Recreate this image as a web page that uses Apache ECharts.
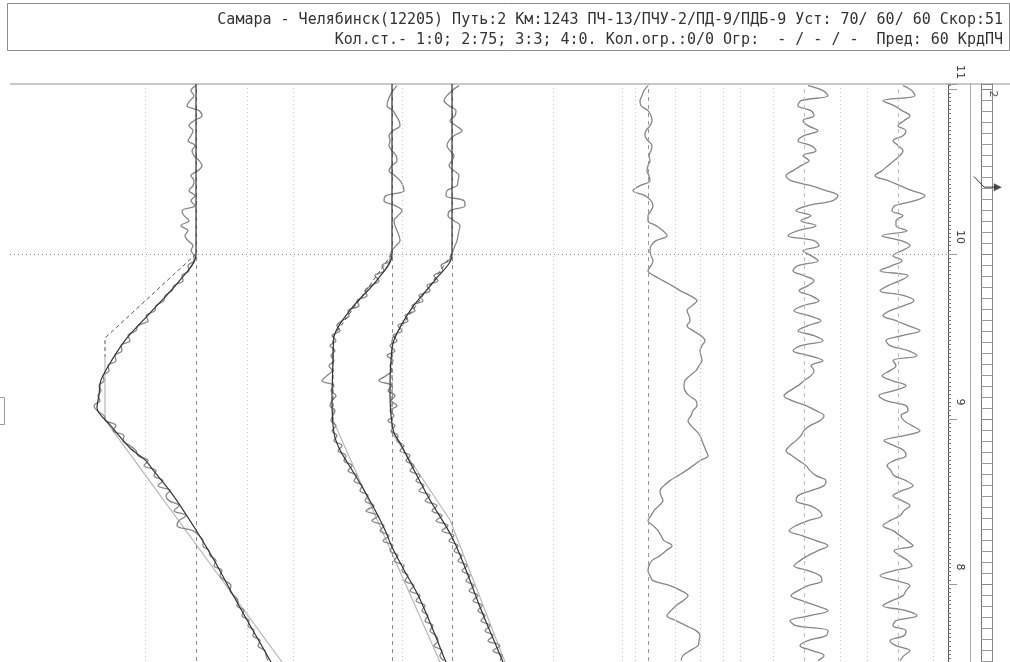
<!DOCTYPE html>
<html><head><meta charset="utf-8">
<script src="https://cdn.jsdelivr.net/npm/echarts@6/dist/echarts.min.js"></script>
<style>html,body{margin:0;padding:0;background:#fff}#c{width:1010px;height:662px}</style>
</head><body><div id="c"></div>
<script>
// ---- header texts ----
const headerLine1 = "Самара - Челябинск(12205) Путь:2 Км:1243 ПЧ-13/ПЧУ-2/ПД-9/ПДБ-9 Уст: 70/ 60/ 60 Скор:51";
const headerLine2 = "Кол.ст.- 1:0; 2:75; 3:3; 4:0. Кол.огр.:0/0 Огр:  - / - / -  Пред: 60 КрдПЧ";

// ---- picket axis (hundreds of metres) ----
const kmMin = 7, kmMax = 11.03, kmInterval = 1;
const markerKm = [10.97, 10.405];

// ---- sampled measured traces (start picket, spacing) ----
const kmStart = 11.02, kmStep = 0.0303;
const ch1 = [0,-5,-2,-6,-9,3,6,-2,-7,-3, -5,-8,-1,-4,-2,3,6,2,-5,-2, -3,-7,-1,-5,-1,-14,-12,-7,-15,-8, -11,-8,-3,-5,-2,
  -2,-8,-7,-14,-13, -22,-24,-31,-32,-40,-41,-50,-48,-58,-60, -68,-66,-75,-74,-81,-80,-88,-87,-93,-92,
  -97,-95,-98,-96,-102,-99,-92,-90,-80,-83, -72,-73,-66,-60,-58,-48,-52,-40,-42,-33, -38,-26,-30,-27,-17,-22,-10,-17,-19,-3,
  3,7,7,13,14,20,18,26,24,29, 35,34,38,42,41,48,46,53,52,58, 57,64,62,69,70,72];
const ch2 = [5,1,-2,-4,-5,1,4,7,8,1, -3,-2,-3,0,4,5,0,-3,3,8, 11,12,-6,-8,3,10,6,2,3,5, 7,8,4,0,-2,
  -2,-10,-8,-17,-13, -21,-27,-25,-35,-33,-44,-43,-50,-55,-52, -60,-56,-62,-57,-61,-58,-63,-60,-65,-70,
  -58,-61,-56,-60,-62,-57,-59,-61,-56,-60, -55,-58,-50,-54,-46,-48,-40,-44,-35,-38, -30,-32,-24,-27,-18,-26,-14,-20,-8,-12,
  -3,-9,1,-2,6,2,12,10,16,13, 22,18,28,24,33,30,36,33,41,38, 44,46,42,50,48,52];
const ch3 = [7,0,-5,-8,-3,4,3,-2,4,10, 2,-3,-5,-2,2,0,-3,2,7,6, 5,-5,-6,12,13,-2,-4,2,8,7, 6,5,3,1,-1,
  -3,-11,-9,-18,-14, -25,-22,-33,-29,-40,-37,-47,-44,-54,-50, -59,-55,-62,-57,-65,-59,-62,-60,-66,-73,
  -60,-64,-57,-61,-55,-62,-58,-64,-57,-61, -54,-55,-48,-52,-42,-46,-38,-42,-32,-36, -28,-33,-22,-27,-15,-20,-10,-16,-4,-10,
  2,-3,6,2,10,6,15,10,18,14, 22,17,26,21,30,26,33,29,38,33, 41,36,48,41,50,48];
const ch4 = [0,-4,-6,-8,-7,0,3,4,2,-2, -3,0,4,3,1,2,0,-1,1,2, -8,-15,-3,3,5,3,0,0,8,15, 19,8,3,2,3,5,3,0,6,15,
  24,32,42,49,44,39,41,42,39,45, 53,57,54,52,53,54,51,48,42,37, 36,37,41,48,49,45,43,40,43,48,
  52,54,56,58,60,52,45,38,30,22, 16,12,13,15,11,6,3,0,5,10, 13,16,24,18,12,4,1,0,2,5,
  22,33,40,35,28,23,19,28,38,48, 52,51,50,42,35,33];
const ch5 = [4,19,24,-3,-6,7,10,-1,4,14, 0,-6,7,12,-1,5,-3,-11,-18,-13, 7,22,34,29,4,-8,7,-3,12,-6,
  -16,10,15,-1,7,14,-6,-11,0,10, 4,-5,7,15,-1,-10,5,17,4,-6, 10,19,-3,-11,5,19,7,10,7,0,
  -6,-14,-20,-12,2,12,20,16,6,0, -3,-8,-14,-18,-12,-5,2,6,12,22, 20,7,-6,-8,6,15,18,4,-8,-15,
  -2,12,24,14,4,-4,-10,4,16,18, 4,-6,-13,-2,12,24,6,-14,-8,24, 22,4,-4,8,20,14];
const ch6 = [5,14,17,-15,-4,4,12,6,0,8, 5,-5,0,5,2,-4,-10,-16,-23,-10, 2,14,27,17,-3,-6,5,-2,-2,9,
  -16,3,12,4,-5,4,-6,-18,10,2, -10,-18,6,16,6,-8,-15,-2,10,22, 4,-12,-8,10,19,-5,-2,-8,-16,-6,
  8,-4,-19,-12,8,10,3,6,14,22, 6,-14,-4,6,8,-4,-11,-7,-4,8, 15,4,-5,4,12,6,2,-8,-15,-5,
  2,9,15,-4,2,10,14,-4,-18,-2, 12,8,5,-6,-15,8,19,-2,-5,8, 6,-8,-2,12,6,2];

// ---- smoothed traces and design (pickets / value) ----
const ch1SmoothKm = [11.03,9.994,9.842,9.642,9.491,9.358,9.236,9.145,9.067,8.964,8.824,8.752,8.691,8.539,8.327,8.145,7.933,7.782,7.570,7.527];
const ch1SmoothVal = [0,0,-16,-46,-69,-84,-95,-97,-99,-86,-66,-51,-43,-23,0,18,37,51,71,75];
const ch1DesignKm = [10.0,9.491,9.376];  const ch1DesignVal = [0,-91,-91];
const ch1ExitKm = [9.376,8.994,7.527];   const ch1ExitVal = [-91,-91,86];

const ch2SmoothKm = [11.03,9.994,9.842,9.673,9.497,9.358,9.115,8.915,8.812,8.691,8.570,8.448,8.327,8.224,8.085,7.945,7.782,7.570,7.527];
const ch2SmoothVal = [0,0,-15,-40,-58,-59,-60,-58,-52,-40,-28,-17,-7,0,12,25,37,51,54];
const ch2DesignKm = [10.0,9.497,8.994];  const ch2DesignVal = [0,-59,-59];
const ch2ExitKm = [8.994,7.527];         const ch2ExitVal = [-59,48];

const ch3SmoothKm = [11.03,9.994,9.842,9.673,9.479,9.358,9.176,9.024,8.915,8.855,8.691,8.509,8.285,8.085,7.861,7.570,7.527];
const ch3SmoothVal = [0,0,-17,-40,-58,-61,-62,-61,-58,-52,-38,-22,0,14,28,48,51];
const ch3DesignKm = [10.0,9.479,8.915];  const ch3DesignVal = [0,-60,-60];
const ch3ExitKm = [8.915,8.388,7.527];   const ch3ExitVal = [-60,-2,53];

// ---- level (threshold) lines per channel ----
const ch1Levels = [-51,51,97];
const ch2Levels = [10];
const ch3Levels = [101];
const ch4Levels = [-26,-13,27,52,75,92];
const ch5Levels = [-31,36];
const ch6Levels = [-31,35];

// ---- layout ----
const GL = 10, GR = 948;
const bases = [196,392,452,648,804,898];

const sampled = vals => vals.map((v,i) => [v, +(kmStart - i*kmStep).toFixed(4)]);
const paired = (kms, vals) => kms.map((k,i) => [vals[i], k]);

const chart = echarts.init(document.getElementById('c'), null, {renderer:'canvas'});

function levelLines(levels, baseColor, withKm10){
  const d = levels.map(v => ({xAxis:v, lineStyle:{type:[1,3], color:'#c4c4c4', width:1}}));
  d.push({xAxis:0, lineStyle:{type:[4,4], color:baseColor, width:1}});
  if (withKm10) d.push({yAxis:10, lineStyle:{type:[1,3], color:'#8c8c8c', width:1}});
  return {silent:true, symbol:'none', label:{show:false}, animation:false, data:d};
}
function traceSeries(idx, vals, levels, baseColor, withKm10){
  return {type:'line', xAxisIndex:idx, yAxisIndex:0, data:sampled(vals), showSymbol:false, symbol:'none',
    smooth:0.35, lineStyle:{color:'#858585', width:1.3}, animation:false, z:3,
    markLine: levelLines(levels, baseColor, withKm10)};
}
function plainLine(idx, kms, vals, color, width, type, smooth, z){
  return {type:'line', xAxisIndex:idx, yAxisIndex:0, data:paired(kms, vals), showSymbol:false, symbol:'none',
    smooth:smooth, lineStyle:{color:color, width:width, type:type}, animation:false, z:z};
}

const xAxes = bases.map(b => ({type:'value', gridIndex:0, min:GL-b, max:GR-b, show:false}));
xAxes.push({type:'value', gridIndex:1, min:0, max:1, show:false});

const yBase = {type:'value', gridIndex:0, min:kmMin, max:kmMax, position:'right', splitLine:{show:false}};
const option = {
  backgroundColor:'#fff',
  animation:false,
  grid:[{left:GL, width:GR-GL, top:84, height:665, containLabel:false, outerBoundsMode:'none'},
        {left:972, width:38, top:84, height:665, containLabel:false, outerBoundsMode:'none'}],
  xAxis: xAxes,
  yAxis: [
    Object.assign({}, yBase, {interval:kmInterval, offset:0,
      axisLine:{show:true, onZero:false, lineStyle:{color:'#555', width:1}},
      axisTick:{show:true, length:9, lineStyle:{color:'#999'}},
      minorTick:{show:true, splitNumber:40, length:3, lineStyle:{color:'#777'}},
      axisLabel:{show:true, rotate:-90, margin:6, fontSize:11, color:'#333', fontFamily:'DejaVu Sans',
        padding:[0,34,0,0], formatter: v => String(v)}}),
    Object.assign({}, yBase, {offset:22, axisLine:{show:true, onZero:false, lineStyle:{color:'#aaa'}},
      axisTick:{show:false}, axisLabel:{show:false}}),
    Object.assign({}, yBase, {interval:kmInterval, offset:33, axisLine:{show:true, onZero:false, lineStyle:{color:'#777'}},
      axisTick:{show:true, length:11, lineStyle:{color:'#888'}},
      minorTick:{show:true, splitNumber:15, length:11, lineStyle:{color:'#999'}}, axisLabel:{show:false}}),
    Object.assign({}, yBase, {offset:44, axisLine:{show:true, onZero:false, lineStyle:{color:'#888'}},
      axisTick:{show:false}, axisLabel:{show:false}}),
    {type:'value', gridIndex:1, min:kmMin, max:kmMax, show:false}
  ],
  series: [
    traceSeries(0, ch1, ch1Levels, '#8a8a8a', true),
    plainLine(0, ch1ExitKm, ch1ExitVal, '#b8b8b8', 1.2, 'solid', false, 2),
    plainLine(0, ch1DesignKm, ch1DesignVal, '#555', 1, [4,3], false, 4),
    plainLine(0, ch1SmoothKm, ch1SmoothVal, '#333', 1.2, 'solid', 0.3, 5),

    traceSeries(1, ch2, ch2Levels, '#8a8a8a', false),
    plainLine(1, ch2ExitKm, ch2ExitVal, '#b8b8b8', 1.2, 'solid', false, 2),
    plainLine(1, ch2DesignKm, ch2DesignVal, '#555', 1, [4,3], false, 4),
    plainLine(1, ch2SmoothKm, ch2SmoothVal, '#333', 1.2, 'solid', 0.3, 5),

    traceSeries(2, ch3, ch3Levels, '#8a8a8a', false),
    plainLine(2, ch3ExitKm, ch3ExitVal, '#b8b8b8', 1.2, 'solid', false, 2),
    plainLine(2, ch3DesignKm, ch3DesignVal, '#555', 1, [4,3], false, 4),
    plainLine(2, ch3SmoothKm, ch3SmoothVal, '#333', 1.2, 'solid', 0.3, 5),

    traceSeries(3, ch4, ch4Levels, '#999', false),
    traceSeries(4, ch5, ch5Levels, '#bdbdbd', false),
    traceSeries(5, ch6, ch6Levels, '#bdbdbd', false),

    {type:'scatter', xAxisIndex:6, yAxisIndex:4, data:[[0.55, markerKm[0]]], symbol:'circle', symbolSize:1,
     itemStyle:{color:'rgba(0,0,0,0)'},
     label:{show:true, position:'inside', formatter:'2', rotate:-90, fontSize:11, color:'#333', fontFamily:'DejaVu Sans'}, animation:false},
    {type:'line', xAxisIndex:6, yAxisIndex:4, data:[[0.05, markerKm[1]+0.065],[0.32, markerKm[1]],[0.66, markerKm[1]]],
     symbol:'none', lineStyle:{color:'#333', width:1}, animation:false},
    {type:'scatter', xAxisIndex:6, yAxisIndex:4, data:[[0.68, markerKm[1]]], symbol:'triangle', symbolRotate:-90,
     symbolSize:8, itemStyle:{color:'#222'}, animation:false}
  ],
  graphic: [
    {type:'rect', shape:{x:7.5, y:3.5, width:1002, height:47}, style:{fill:'#fff', stroke:'#8c8c8c', lineWidth:1}, silent:true},
    {type:'text', x:1003, y:20, style:{text:headerLine1, textAlign:'right', textVerticalAlign:'middle',
      font:'15px "DejaVu Sans Mono"', fill:'#333'}},
    {type:'text', x:1003, y:40, style:{text:headerLine2, textAlign:'right', textVerticalAlign:'middle',
      font:'15px "DejaVu Sans Mono"', fill:'#333'}},
    {type:'line', shape:{x1:10, y1:84, x2:1010, y2:84}, style:{stroke:'#c8c8c8', lineWidth:2}, silent:true},
    {type:'rect', shape:{x:-4.5, y:397.5, width:9, height:27}, style:{fill:'none', stroke:'#999', lineWidth:1}, silent:true}
  ]
};
chart.setOption(option);
</script>
</body></html>
